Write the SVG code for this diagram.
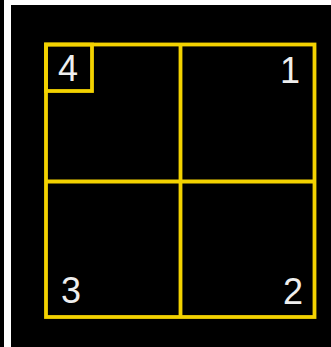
<svg xmlns="http://www.w3.org/2000/svg" width="331" height="347" viewBox="0 0 331 347">
<style>
.ln{fill:none;stroke:#f3d200;stroke-width:3.8}
.lb{font-family:"Liberation Sans",Arial,sans-serif;font-size:36px;fill:#eeeeee}
</style>
<rect x="0" y="0" width="331" height="347" fill="#ffffff"/>
<rect x="0" y="0" width="4" height="347" fill="#000000"/>
<rect x="11" y="5" width="320" height="342" fill="#000000"/>
<g id="grid">
<rect class="ln" x="46" y="44.5" width="268.5" height="272.5"/>
<line class="ln" x1="180.5" y1="44.5" x2="180.5" y2="317"/>
<line class="ln" x1="46" y1="181.5" x2="314.5" y2="181.5"/>
</g>
<g id="q4">
<rect class="ln" x="46" y="44.5" width="46" height="46.5"/>
<text class="lb" x="58" y="81">4</text>
</g>
<g id="q1"><text class="lb" x="300" y="83" text-anchor="end">1</text></g>
<g id="q3"><text class="lb" x="61" y="303">3</text></g>
<g id="q2"><text class="lb" x="303" y="304" text-anchor="end">2</text></g>
</svg>
